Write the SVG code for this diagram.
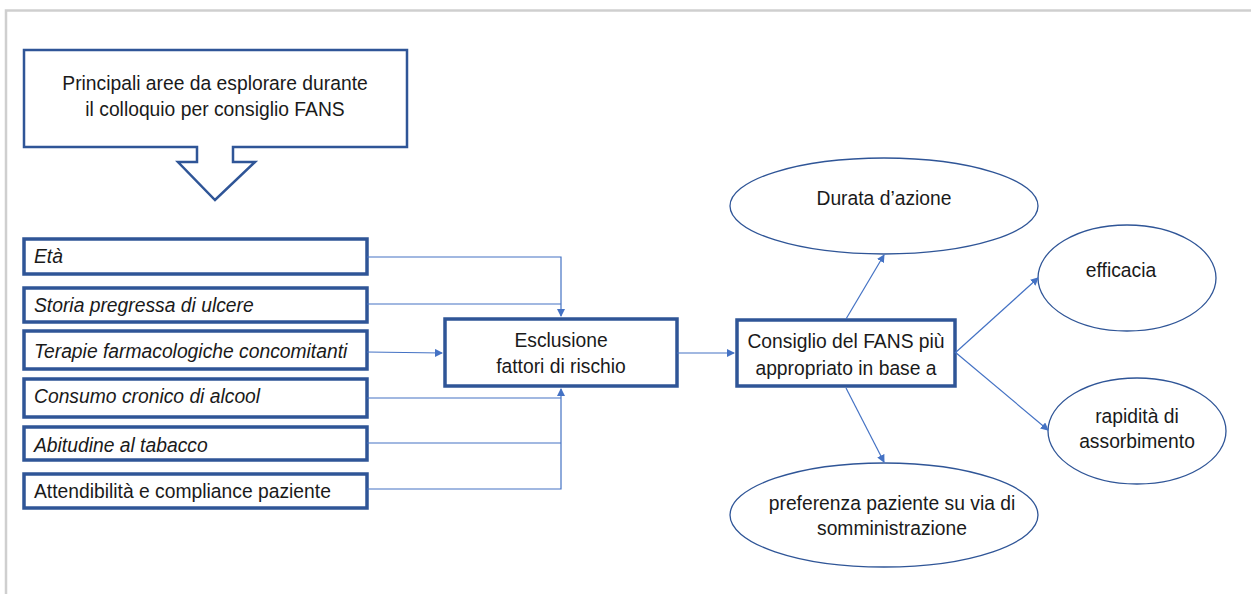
<svg xmlns="http://www.w3.org/2000/svg" width="1251" height="594" viewBox="0 0 1251 594">
<defs>
<marker id="ah" markerWidth="8" markerHeight="8" refX="7" refY="4" orient="auto" markerUnits="userSpaceOnUse">
<path d="M0,0 L8,4 L0,8 Z" fill="#4472C4"/>
</marker>
<style>
.t{font-family:"Liberation Sans",Arial,sans-serif;font-size:19.3px;fill:#1a1a1a}
.i{font-style:italic}
.box{fill:#fff;stroke:#2F5597;stroke-width:3.5}
.ell{fill:#fff;stroke:#2F5597;stroke-width:1.3}
.c{fill:none;stroke:#4472C4;stroke-width:1.2}
</style>
</defs>
<rect width="1251" height="594" fill="#fff"/>
<path d="M6,594 V10.5 H1251" fill="none" stroke="#cfcfcf" stroke-width="2.5"/>

<g id="callout">
<path d="M24,50 H407 V147 H233 V162 H255 L215,200 L178,162 H197 V147 H24 Z" fill="#fff" stroke="#2F5597" stroke-width="2.5"/>
<text class="t" x="215" y="90" text-anchor="middle">Principali aree da esplorare durante</text>
<text class="t" x="215" y="116" text-anchor="middle">il colloquio per consiglio FANS</text>
</g>

<g id="eta"><rect class="box" x="24" y="239" width="343" height="35"/><text class="t i" x="34" y="263">Età</text></g>
<g id="storia"><rect class="box" x="24" y="288" width="343" height="34"/><text class="t i" x="34" y="312">Storia pregressa di ulcere</text></g>
<g id="terapie"><rect class="box" x="24" y="331" width="343" height="38"/><text class="t i" x="34" y="358">Terapie farmacologiche concomitanti</text></g>
<g id="consumo"><rect class="box" x="24" y="379" width="343" height="38"/><text class="t i" x="34" y="403">Consumo cronico di alcool</text></g>
<g id="abitudine"><rect class="box" x="24" y="427" width="343" height="33"/><text class="t i" x="34" y="452">Abitudine al tabacco</text></g>
<g id="attendibilita"><rect class="box" x="24" y="474" width="343" height="34"/><text class="t" x="34" y="498">Attendibilità e compliance paziente</text></g>

<g id="esclusione"><rect class="box" x="445" y="319" width="232" height="67"/>
<text class="t" x="561" y="347" text-anchor="middle">Esclusione</text>
<text class="t" x="561" y="373" text-anchor="middle">fattori di rischio</text></g>

<g id="consiglio"><rect class="box" x="737" y="320" width="218" height="66"/>
<text class="t" x="846" y="348" text-anchor="middle">Consiglio del FANS più</text>
<text class="t" x="846" y="375" text-anchor="middle">appropriato in base a</text></g>

<g id="durata"><ellipse class="ell" cx="884" cy="206" rx="154" ry="48"/>
<text class="t" x="884" y="205" text-anchor="middle">Durata d’azione</text></g>

<g id="efficacia"><ellipse class="ell" cx="1127" cy="278" rx="89" ry="53"/>
<text class="t" x="1121" y="277" text-anchor="middle">efficacia</text></g>

<g id="rapidita"><ellipse class="ell" cx="1137" cy="431" rx="89" ry="53"/>
<text class="t" x="1137" y="423" text-anchor="middle">rapidità di</text>
<text class="t" x="1137" y="448" text-anchor="middle">assorbimento</text></g>

<g id="preferenza"><ellipse class="ell" cx="884" cy="515" rx="154" ry="52"/>
<text class="t" x="892" y="510" text-anchor="middle">preferenza paziente su via di</text>
<text class="t" x="892" y="535" text-anchor="middle">somministrazione</text></g>

<g id="connectors">
<path class="c" d="M367,257 H561 V316" marker-end="url(#ah)"/>
<path class="c" d="M367,304 H561"/>
<path class="c" d="M367,352 L442,353" marker-end="url(#ah)"/>
<path class="c" d="M367,489 H561 V389" marker-end="url(#ah)"/>
<path class="c" d="M367,398 H561"/>
<path class="c" d="M367,443 H561"/>
<path class="c" d="M677,353 H734" marker-end="url(#ah)"/>
<path class="c" d="M846,319 L884,255" marker-end="url(#ah)"/>
<path class="c" d="M955,353 L1038,278" marker-end="url(#ah)"/>
<path class="c" d="M955,352 L1048,430" marker-end="url(#ah)"/>
<path class="c" d="M846,388 L884,462" marker-end="url(#ah)"/>
</g>
</svg>
